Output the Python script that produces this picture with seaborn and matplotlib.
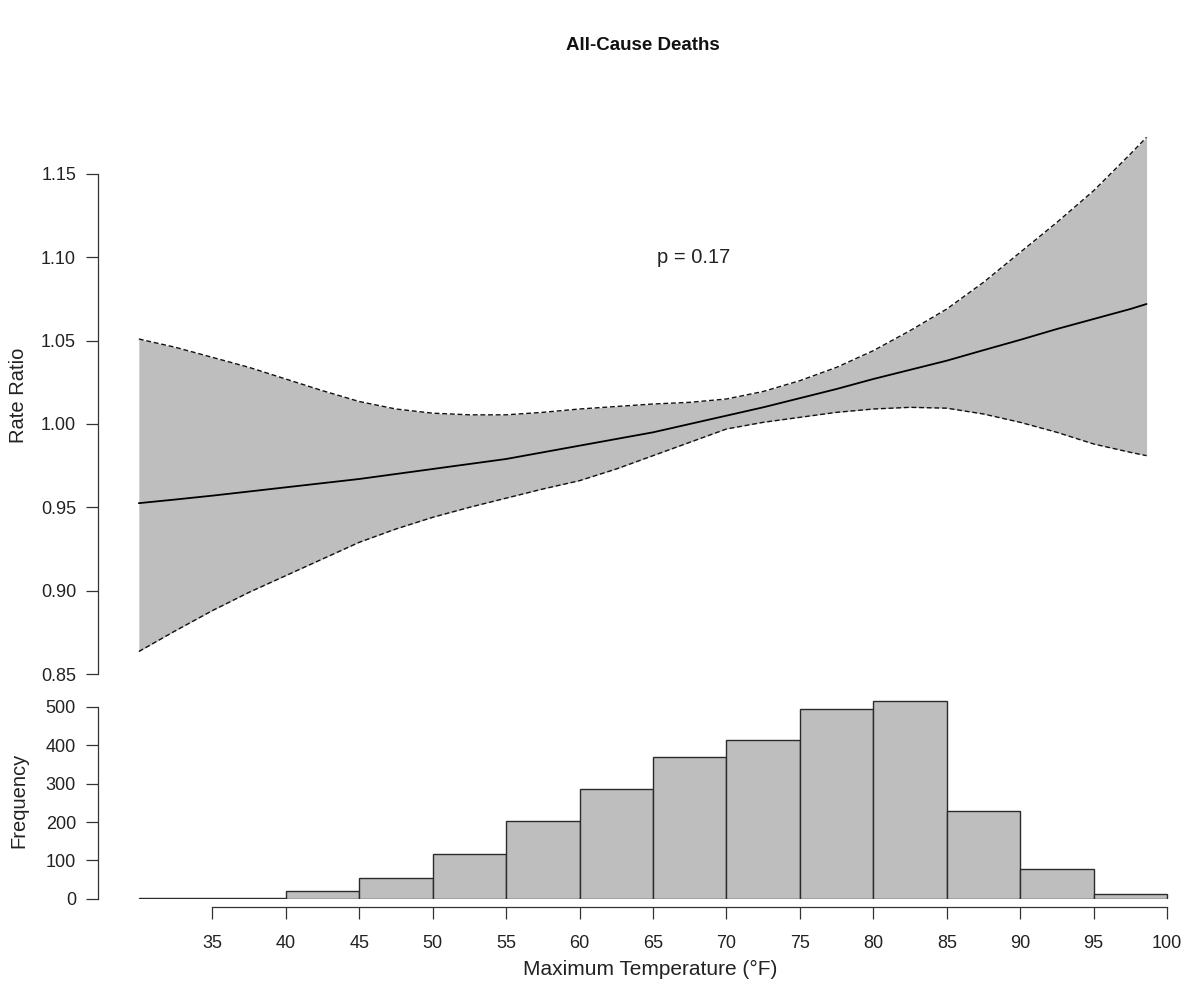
import numpy as np
import pandas as pd
import matplotlib
matplotlib.use("Agg")
import matplotlib.pyplot as plt
import seaborn as sns

# ---- data ----
temp = [30, 32.5, 35, 37.5, 40, 42.5, 45, 47.5, 50, 52.5, 55, 57.5, 60, 62.5, 65,
        67.5, 70, 72.5, 75, 77.5, 80, 82.5, 85, 87.5, 90, 92.5, 95, 97.5, 98.6]
rr_fit = [0.9525, 0.9547, 0.957, 0.9595, 0.962, 0.9645, 0.967, 0.970, 0.973, 0.976,
          0.979, 0.983, 0.987, 0.991, 0.995, 1.000, 1.005, 1.010, 1.0155, 1.021,
          1.027, 1.0325, 1.038, 1.0443, 1.0505, 1.057, 1.063, 1.069, 1.072]
rr_upper = [1.051, 1.046, 1.040, 1.034, 1.027, 1.020, 1.0135, 1.009, 1.0065, 1.0055,
            1.0055, 1.007, 1.009, 1.0105, 1.012, 1.013, 1.015, 1.0195, 1.026, 1.034,
            1.044, 1.056, 1.069, 1.085, 1.103, 1.121, 1.140, 1.162, 1.172]
rr_lower = [0.8635, 0.876, 0.888, 0.899, 0.909, 0.919, 0.929, 0.937, 0.944, 0.950,
            0.9555, 0.961, 0.966, 0.973, 0.981, 0.989, 0.997, 1.001, 1.004, 1.007,
            1.009, 1.010, 1.0095, 1.006, 1.001, 0.995, 0.988, 0.983, 0.981]

bin_edges = [30, 35, 40, 45, 50, 55, 60, 65, 70, 75, 80, 85, 90, 95, 100]
bin_counts = [1, 3, 21, 54, 116, 203, 286, 369, 414, 494, 515, 230, 77, 13]

rr_ticks = [0.85, 0.90, 0.95, 1.00, 1.05, 1.10, 1.15]
freq_ticks = [0, 100, 200, 300, 400, 500]
temp_ticks = [35, 40, 45, 50, 55, 60, 65, 70, 75, 80, 85, 90, 95, 100]

title = "All-Cause Deaths"
p_label = "p = 0.17"

# ---- styling ----
sns.set_style("white")
plt.rcParams['font.family'] = ['Liberation Sans', 'DejaVu Sans']

W, H = 1184, 983
fig = plt.figure(figsize=(W / 100, H / 100), dpi=100)


def rect(l, t, r, b):
    return [l / W, 1 - b / H, (r - l) / W, (b - t) / H]


ax1 = fig.add_axes(rect(97.7, 130, 1184, 680))
ax2 = fig.add_axes(rect(97.7, 699.3, 1184, 898.7))

band = pd.DataFrame({"temp": temp, "fit": rr_fit, "upper": rr_upper, "lower": rr_lower})
fill = "#BEBEBE"
ax1.fill_between(band["temp"], band["lower"], band["upper"], color=fill, lw=0)
sns.lineplot(data=band, x="temp", y="upper", ax=ax1, color="#111111", lw=1.0,
             linestyle=(0, (3.5, 2)))
sns.lineplot(data=band, x="temp", y="lower", ax=ax1, color="#111111", lw=1.0,
             linestyle=(0, (3.5, 2)))
sns.lineplot(data=band, x="temp", y="fit", ax=ax1, color="black", lw=1.3)

centers = [(a + b) / 2 for a, b in zip(bin_edges[:-1], bin_edges[1:])]
hist = pd.DataFrame({"temp": centers, "count": bin_counts})
sns.histplot(data=hist, x="temp", weights="count", bins=bin_edges, ax=ax2,
             color=fill, edgecolor="#2b2b2b", linewidth=1.0, alpha=1)

xlim = (27.2, 101.15)
axis_col = "#333333"
for ax in (ax1, ax2):
    ax.set_xlim(*xlim)
    for s in ("top", "right"):
        ax.spines[s].set_visible(False)
    ax.spines["left"].set_color(axis_col)
    ax.spines["left"].set_linewidth(0.9)
    ax.tick_params(axis="both", direction="out", length=8.6, width=0.9,
                   color=axis_col, labelsize=13, labelcolor="#222222")

# upper panel
ax1.set_ylim(0.8464, 1.1764)
ax1.spines["bottom"].set_visible(False)
ax1.spines["left"].set_bounds(0.85, 1.15)
ax1.set_yticks(rr_ticks)
ax1.set_yticklabels([f"{v:.2f}" for v in rr_ticks])
ax1.tick_params(axis="y", left=True, pad=7)
ax1.set_xticks([])
ax1.set_xlabel("")
ax1.set_ylabel("Rate Ratio", fontsize=14.5, color="#222222")
ax1.yaxis.set_label_coords(19 / W, 1 - 395 / H, transform=fig.transFigure)
ax1.yaxis.label.set_verticalalignment("center")
ax1.text(67.8, 1.10, p_label, ha="center", va="center", fontsize=14.5, color="#222222")

# lower panel
ax2.set_ylim(0, 520)
ax2.spines["left"].set_bounds(0, 500)
ax2.spines["bottom"].set_bounds(35, 100)
ax2.spines["bottom"].set_position(("outward", 5.8))
ax2.spines["bottom"].set_color(axis_col)
ax2.spines["bottom"].set_linewidth(0.9)
ax2.set_yticks(freq_ticks)
ax2.set_yticklabels([str(v) for v in freq_ticks])
ax2.set_xticks(temp_ticks)
ax2.set_xticklabels([str(v) for v in temp_ticks])
ax2.tick_params(axis="y", left=True, pad=7)
ax2.tick_params(axis="x", bottom=True, pad=12)
ax2.set_ylabel("Frequency", fontsize=14.5, color="#222222")
ax2.yaxis.set_label_coords(19 / W, 1 - 800 / H, transform=fig.transFigure)
ax2.yaxis.label.set_verticalalignment("center")
ax2.set_xlabel("Maximum Temperature (\u00b0F)", fontsize=15, color="#222222")
ax2.xaxis.set_label_coords(650 / W, 1 - 969 / H, transform=fig.transFigure)
ax2.xaxis.label.set_verticalalignment("center")

fig.text(643 / W, 1 - 46 / H, title, ha="center", va="center", fontsize=13.5,
         fontweight="bold", color="#111111")

fig.savefig("out.png", dpi=100)
